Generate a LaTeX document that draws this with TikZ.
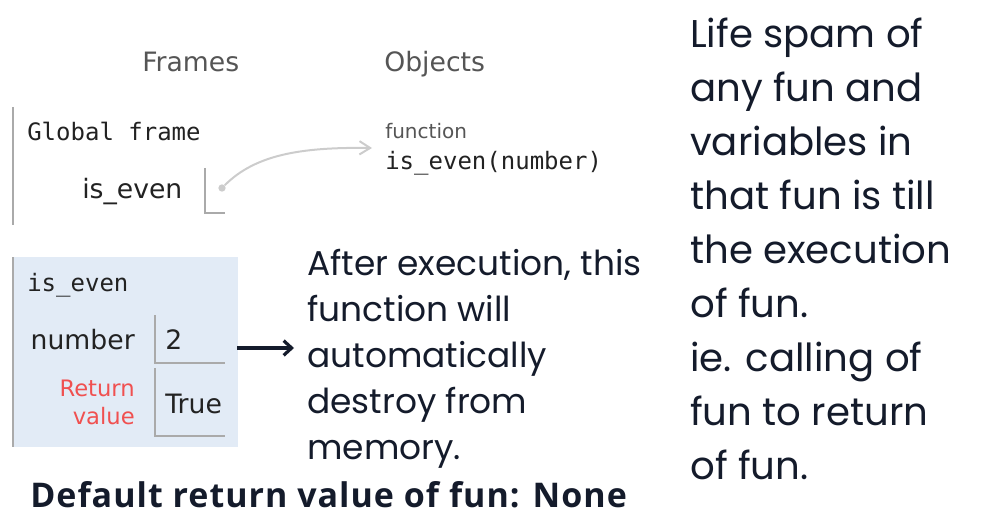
\documentclass[tikz,border=0pt]{standalone}
\usepackage{fontspec}
\setmainfont{Poppins}
\newfontfamily\tutorsans{DejaVu Sans}
\newfontfamily\tutormono{DejaVu Sans Mono}
\newfontfamily\headfont{Open Sans}[LetterSpace=3]
\usetikzlibrary{arrows.meta, calc}
\definecolor{ink}{HTML}{141B2B}
\definecolor{tutorink}{HTML}{222222}
\definecolor{tutorgray}{HTML}{555555}
\definecolor{rail}{HTML}{AAAAAA}
\definecolor{framebg}{HTML}{E2EBF6}
\definecolor{retred}{HTML}{F05050}
\definecolor{pointergray}{HTML}{CCCCCC}

\tikzset{
  tutorlbl/.style={inner sep=0, text=tutorink, font=\tutorsans\fontsize{20}{24}\selectfont},
  monolbl/.style={inner sep=0, text=tutorink, font=\tutormono\fontsize{18}{22}\selectfont},
  cell/.style={rail, line width=1pt},
  note/.style={inner sep=0, text=ink, align=left},
}

\begin{document}
\begin{tikzpicture}[x=0.75pt, y=-0.75pt]
  \useasboundingbox (0,0) rectangle (981,531);
  % headings
  \node[tutorlbl, text=tutorgray, anchor=base west] (frames) at (142,72) {Frames};
  \node[tutorlbl, text=tutorgray, anchor=base west] (objects) at (384,72) {Objects};
  % global frame
  \draw[rail, line width=1.5pt] (13,107) -- (13,225);
  \node[monolbl, anchor=base west] (global) at (27,141) {Global frame};
  \node[tutorlbl, anchor=base west] (evenvar) at (82,199) {is\_even};
  \draw[cell] (205,168) |- (225,213);
  \node[circle, fill=pointergray, inner sep=0, minimum size=5.5pt] (ptr) at (222,188) {};
  \node[tutorlbl, text=tutorgray, font=\tutorsans\fontsize{15}{18}\selectfont, anchor=base west] (fnkind) at (385,139) {function};
  \node[monolbl, anchor=base west] (fnsig) at (385,170) {is\_even(number)};
  \coordinate (fntip) at (372,148);
  \draw[pointergray, line width=1.5pt, -{Straight Barb[length=8pt, width=10pt]}]
    (ptr) .. controls (255,155) and (300,147) .. (fntip);
  % is_even frame
  \fill[framebg] (13,257) rectangle (238,447);
  \draw[rail, line width=1.5pt] (13,257) -- (13,447);
  \node[monolbl, anchor=base west] (frametitle) at (27,291) {is\_even};
  \node[tutorlbl, anchor=base east] (numlbl) at (135,349) {number};
  \draw[cell] (155,315) |- (225,363);
  \node[tutorlbl, anchor=base west] (numval) at (165,349) {2};
  \node[tutorlbl, text=retred, font=\tutorsans\fontsize{17}{21}\selectfont, align=right, anchor=east] (retlbl) at (135,402) {Return\\value};
  \draw[cell] (155,368) |- (225,436);
  \node[tutorlbl, anchor=base west] (retval) at (165,413) {True};
  \coordinate (arrs) at (237,348);
  \coordinate (arre) at (294,348);
  \draw[ink, line width=2.4pt, -{Straight Barb[length=6pt, width=11pt, line width=2.4pt]}] (arrs) -- (arre);
  % notes
  \node[note, font=\fontsize{25.8}{34.5}\selectfont, anchor=north west] (afterexec) at (307,249)
    {After execution, this\\function will\\automatically\\destroy from\\memory.};
  \node[note, font=\fontsize{29}{40.5}\selectfont, anchor=north west] (lifespan) at (690,18)
    {Life spam of\\any fun and\\variables in\\that fun is till\\the execution\\of fun.\\ie. calling of\\fun to return\\of fun.};
  \node[inner sep=0, text=ink, font=\headfont\bfseries\fontsize{25.5}{28}\selectfont, anchor=base west] (default) at (30,507)
    {Default return value of fun: None};
\end{tikzpicture}
\end{document}
